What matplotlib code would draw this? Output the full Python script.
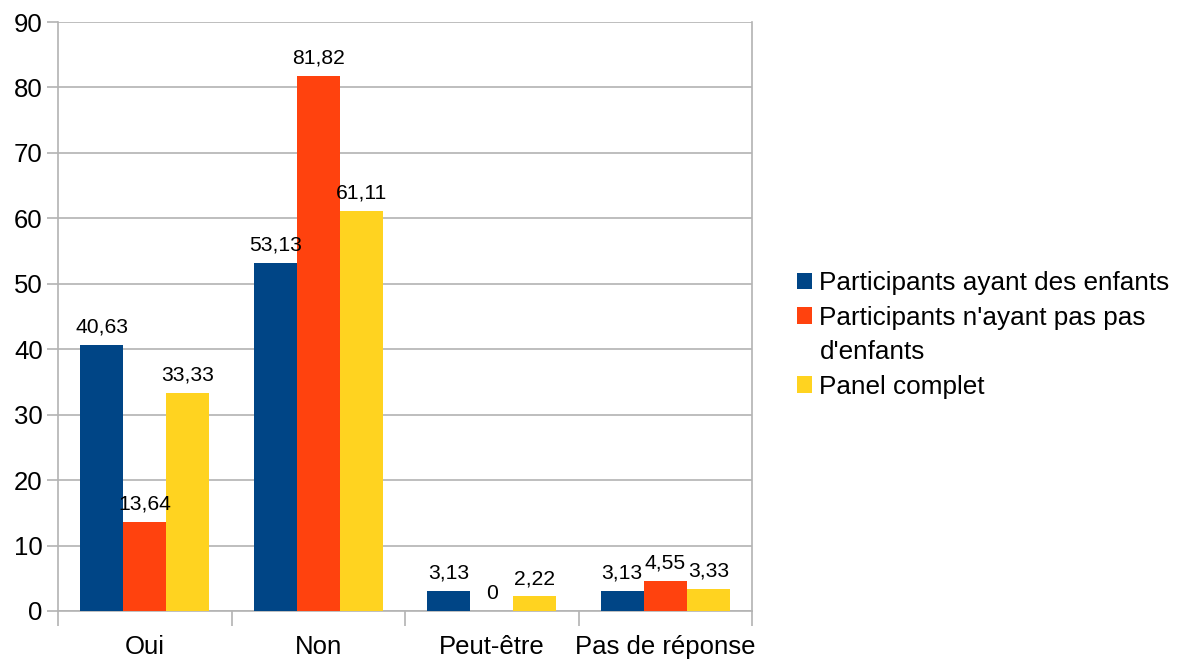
import matplotlib
matplotlib.use("Agg")
import matplotlib.pyplot as plt
from matplotlib.patches import Patch
import numpy as np

categories = ["Oui", "Non", "Peut-être", "Pas de réponse"]
series_names = ["Participants ayant des enfants",
                "Participants n'ayant pas pas\nd'enfants",
                "Panel complet"]
avec_enfants = [40.63, 53.13, 3.13, 3.13]
sans_enfants = [13.64, 81.82, 0, 4.55]
panel_complet = [33.33, 61.11, 2.22, 3.33]
colors = ["#004586", "#ff420e", "#ffd320"]

plt.rcParams['font.family'] = ['Liberation Sans', 'DejaVu Sans']

fig = plt.figure(figsize=(11.79, 6.6), dpi=100)
ax = fig.add_axes([58 / 1179, 49 / 660, 694 / 1179, 589 / 660])

x = np.arange(len(categories))
width = 0.248
series = [avec_enfants, sans_enfants, panel_complet]
for i, (vals, name, col) in enumerate(zip(series, series_names, colors)):
    pos = x + (i - 1) * width
    ax.bar(pos, vals, width=width, color=col, label=name, zorder=3)
    for xp, v in zip(pos, vals):
        txt = f"{v:.2f}".replace(".", ",") if v != 0 else "0"
        ax.annotate(txt, (xp, v), xytext=(0, 6), textcoords="offset points",
                    ha="center", va="bottom", fontsize=15.2, color="#000000", zorder=4)

ax.set_xlim(-0.5, len(categories) - 0.5)
ax.set_ylim(0, 90)
ax.set_yticks(np.arange(0, 91, 10))
ax.tick_params(axis="y", labelsize=18.5, length=8, color="#b3b3b3", width=1.2, pad=3)

# Category labels centred, tick marks on category boundaries
ax.set_xticks(x)
ax.set_xticklabels(categories, fontsize=18.5)
ax.tick_params(axis="x", which="major", length=0, pad=17)
ax.set_xticks(np.arange(-0.5, len(categories), 1), minor=True)
ax.tick_params(axis="x", which="minor", length=11, color="#b3b3b3", width=1.2)

ax.grid(axis="y", color="#b3b3b3", linewidth=1.2, zorder=0)
ax.spines["top"].set_visible(False)
for side in ["left", "bottom", "right"]:
    ax.spines[side].set_color("#b3b3b3")
    ax.spines[side].set_linewidth(1.2)

# Legend: wrapped labels get one row per line, the swatch sits on the first line
handles, labels = [], []
for name, col in zip(series_names, colors):
    lines = name.split("\n")
    handles.append(Patch(facecolor=col, edgecolor="none"))
    labels.append(lines[0])
    for extra in lines[1:]:
        handles.append(Patch(facecolor="none", edgecolor="none"))
        labels.append(extra)

ax.legend(handles, labels, loc="center left",
          bbox_to_anchor=(773 / 1179, 1 - 335 / 660),
          bbox_transform=fig.transFigure, frameon=False,
          fontsize=18.8, handlelength=0.58, handleheight=0.58, handletextpad=0.3,
          labelspacing=0.4)

fig.savefig("out.png", dpi=100)
